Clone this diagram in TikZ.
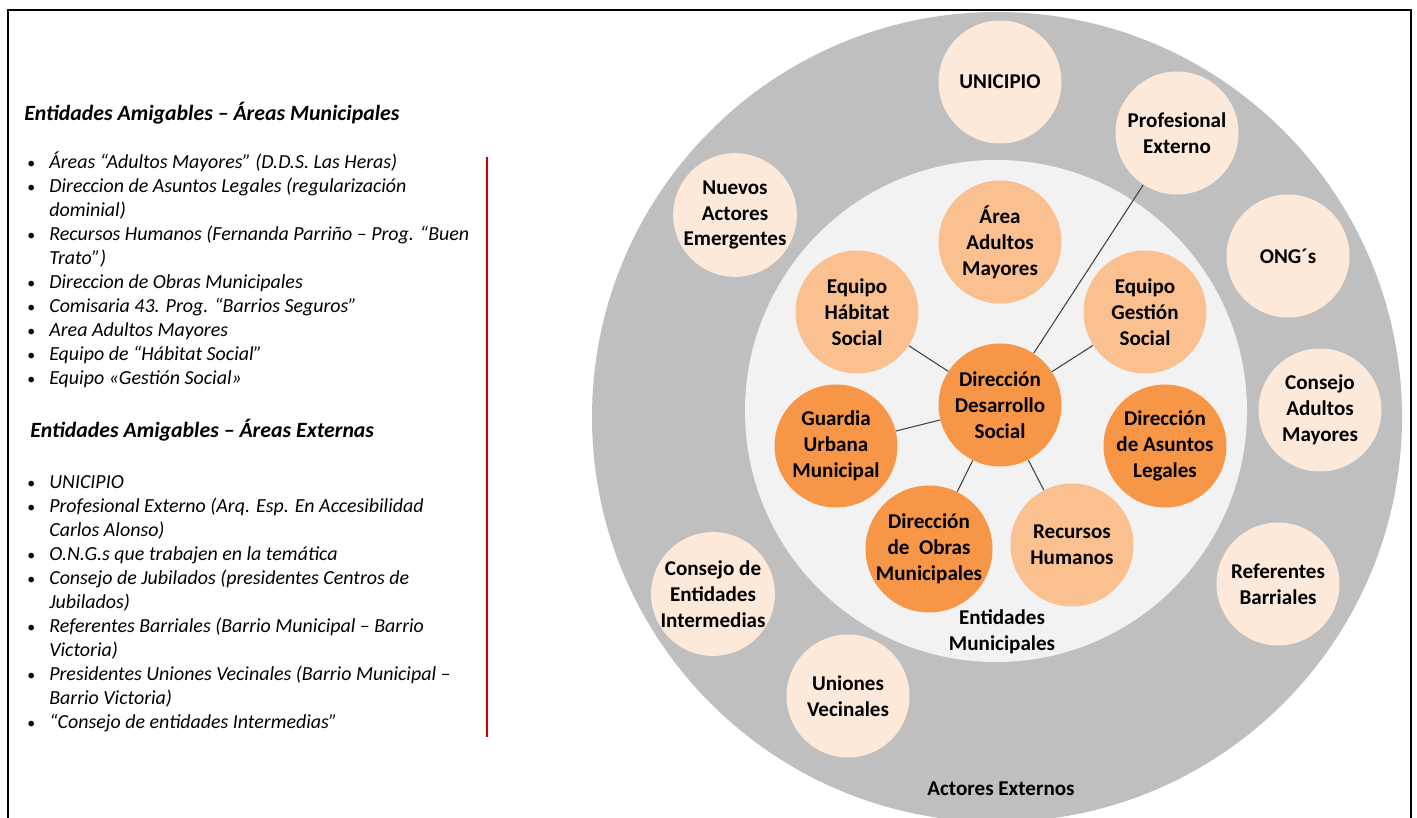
\documentclass[tikz,border=0pt]{standalone}
\usepackage{fontspec}
\setmainfont{Carlito}
\usetikzlibrary{positioning}
\definecolor{anillo}{HTML}{BFBFBF}
\definecolor{nucleo}{HTML}{F2F2F2}
\definecolor{palido}{HTML}{FDE9D9}
\definecolor{claro}{HTML}{FAC090}
\definecolor{fuerte}{HTML}{F79646}
\definecolor{enlace}{HTML}{404040}
\definecolor{raya}{HTML}{D40000}
\tikzset{%
	actor/.style    = {circle, inner sep=0pt, minimum size=2.46cm, align=center, font=\fontsize{12}{14.7}\selectfont\bfseries}, % base circle
	externo/.style  = {actor, fill=palido}, % Outer ring
	area/.style     = {actor, fill=claro}, % Light orange
	direccion/.style= {actor, fill=fuerte}, % Strong orange
	rotulo/.style   = {align=center, font=\fontsize{12}{14.7}\selectfont\bfseries},
	titulo/.style   = {anchor=base west, inner sep=0pt, font=\fontsize{12.4}{14}\selectfont\bfseries\itshape},
	lista/.style    = {anchor=base west, inner sep=0pt, font=\fontsize{11.35}{13.7}\selectfont\itshape},
	link/.style     = {draw=enlace, line width=0.6pt},
}
\newcommand{\itm}{\textup{\small\textbullet}}

\begin{document}
\begin{tikzpicture}[x=0.02cm,y=-0.02cm]
	\useasboundingbox (0,0) rectangle (1417,818);
	\clip (0,0) rectangle (1417,818);
	% rings
	\fill[anillo] (997,417) circle (405);
	\fill[nucleo] (996,411) circle (251);
	% frame
	\draw[line width=1.6pt] (8,818) -- (8,10) -- (1411,10) -- (1411,818);

	% left column
	\node [titulo] (h1) at (24,120) {Entidades Amigables -- Áreas Municipales};
	\node [lista] (l1) at (27,168) {\begin{tabular}[t]{@{}p{0.44cm}@{}l@{}}
		\itm & Áreas “Adultos Mayores” (D.D.S. Las Heras)\\
		\itm & Direccion de Asuntos Legales (regularización\\
		     & dominial)\\
		\itm & Recursos Humanos (Fernanda Parriño -- Prog. “Buen\\
		     & Trato”)\\
		\itm & Direccion de Obras Municipales\\
		\itm & Comisaria 43. Prog. “Barrios Seguros”\\
		\itm & Area Adultos Mayores\\
		\itm & Equipo de “Hábitat Social”\\
		\itm & Equipo «Gestión Social»
	\end{tabular}};
	\node [titulo] (h2) at (30,437) {Entidades Amigables -- Áreas Externas};
	\node [lista] (l2) at (27,488) {\begin{tabular}[t]{@{}p{0.44cm}@{}l@{}}
		\itm & UNICIPIO\\
		\itm & Profesional Externo (Arq. Esp. En Accesibilidad\\
		     & Carlos Alonso)\\
		\itm & O.N.G.s que trabajen en la temática\\
		\itm & Consejo de Jubilados (presidentes Centros de\\
		     & Jubilados)\\
		\itm & Referentes Barriales (Barrio Municipal -- Barrio\\
		     & Victoria)\\
		\itm & Presidentes Uniones Vecinales (Barrio Municipal --\\
		     & Barrio Victoria)\\
		\itm & “Consejo de entidades Intermedias”
	\end{tabular}};
	\coordinate (rtop) at (487,157);
	\coordinate (rbot) at (487,737);
	\draw[raya, line width=0.6pt] (rtop) -- (rbot);

	% outer ring
	\node [externo] (uni) at (1000,82) {UNICIPIO};
	\node [externo] (pro) at (1177,133) {Profesional\\Externo};
	\node [externo] (nue) at (735,215) {Nuevos\\Actores\\Emergentes};
	\node [externo] (ong) at (1288,256) {ONG´s};
	\node [externo] (cam) at (1320,410) {Consejo\\Adultos\\Mayores};
	\node [externo] (ref) at (1278,584) {Referentes\\Barriales};
	\node [externo] (cei) at (713,594) {Consejo de\\Entidades\\Intermedias};
	\node [externo] (uve) at (848,696) {Uniones\\Vecinales};

	% inner ring
	\node [area] (aam) at (1000,242) {Área\\Adultos\\Mayores};
	\node [area] (hab) at (857,312) {Equipo\\Hábitat\\Social};
	\node [area] (ges) at (1145,312) {Equipo\\Gestión\\Social};
	\node [direccion] (dds) at (1000,405) {Dirección\\Desarrollo\\Social};
	\node [direccion] (gum) at (836,446) {Guardia\\Urbana\\Municipal};
	\node [direccion] (dal) at (1165,446) {Dirección\\de Asuntos\\Legales};
	\node [direccion] (dom) at (929,549) {Dirección\\de\ \ Obras\\Municipales};
	\node [area] (rhu) at (1072,545) {Recursos\\Humanos};

	\node [rotulo] (mun) at (1002,632) {Entidades\\Municipales};
	\node [rotulo] (ext) at (1001,789) {Actores Externos};

	\draw[link] (dds) -- (hab);
	\draw[link] (dds) -- (ges);
	\draw[link] (dds) -- (gum);
	\draw[link] (dds) -- (dom);
	\draw[link] (dds) -- (rhu);
	\draw[link] (dds) -- (pro);
\end{tikzpicture}
\end{document}
